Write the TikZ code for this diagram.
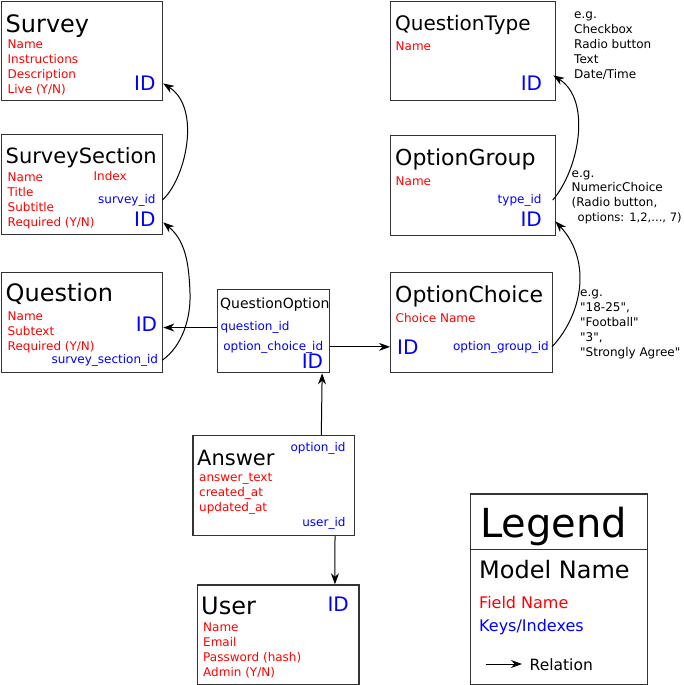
\documentclass[tikz,border=0pt]{standalone}
\usepackage{fontspec}
\setmainfont{DejaVu Sans}[Ligatures=TeXOff]
\usetikzlibrary{arrows.meta}
\tikzset{
  box/.style={draw=black!80, line width=1.3pt, anchor=north west, inner sep=0pt},
  fld/.style={text=red, font=\fontsize{12}{14}\selectfont, inner sep=0pt, anchor=base west},
  keyl/.style={text=blue, font=\fontsize{12}{14}\selectfont, inner sep=0pt, anchor=base west},
  keyr/.style={text=blue, font=\fontsize{12}{14}\selectfont, inner sep=0pt, anchor=base east},
  idk/.style={text=blue, font=\fontsize{20}{24}\selectfont, inner sep=0pt, anchor=base east},
  ttl/.style={font=\fontsize{#1}{#1}\selectfont, inner sep=0pt, anchor=base west},
  note/.style={font=\fontsize{12}{14}\selectfont, inner sep=0pt, anchor=base west},
  rel/.style={-{Stealth[length=11pt,width=8pt,inset=3.5pt]}, line width=1pt, black},
}
\begin{document}
\begin{tikzpicture}[x=1pt,y=-1pt]
\useasboundingbox (0,0) rectangle (684,685);

% ---------- boxes ----------
\node[box, minimum width=161.3pt, minimum height=99.3pt] (survey) at (0.7,0.7) {};
\node[box, minimum width=161.3pt, minimum height=100pt] (ss) at (0.7,134) {};
\node[box, minimum width=161.3pt, minimum height=100pt] (q) at (0.7,272) {};
\node[box, minimum width=112pt, minimum height=83pt] (qo) at (217,289) {};
\node[box, minimum width=165pt, minimum height=99.3pt] (qt) at (390,0.7) {};
\node[box, minimum width=165pt, minimum height=100pt] (og) at (390,135) {};
\node[box, minimum width=162pt, minimum height=100pt] (oc) at (390,272) {};
\node[box, minimum width=161.7pt, minimum height=99.5pt] (ans) at (192.3,435) {};
\node[box, minimum width=161.6pt, minimum height=100pt] (user) at (196.7,584.3) {};
\node[box, minimum width=177.2pt, minimum height=191pt] (leg) at (469.5,493.3) {};
\draw[draw=black!80, line width=1.3pt] (leg.west |- 0,549.3) -- (leg.east |- 0,549.3);

% ---------- Survey ----------
\node[ttl=24] (s_t) at (5.5,32.3) {Survey};
\node[fld] (s_f1) at (7.5,48.5) {Name};
\node[fld] (s_f2) at (7.5,63.5) {Instructions};
\node[fld] (s_f3) at (7.5,78.5) {Description};
\node[fld] (s_f4) at (7.5,93.5) {Live (Y/N)};
\node[idk] (s_id) at (155.7,90.7) {ID};

% ---------- SurveySection ----------
\node[ttl=21] (ss_t) at (5.5,163.3) {SurveySection};
\node[fld] (ss_f1) at (7.5,181.7) {Name};
\node[fld] (ss_f2) at (7.5,196.7) {Title};
\node[fld] (ss_f3) at (7.5,211.7) {Subtitle};
\node[fld] (ss_f4) at (7.5,226.7) {Required (Y/N)};
\node[fld] (ss_f5) at (93.5,180) {Index};
\node[keyr] (ss_sid) at (155.7,203.3) {survey\_id};
\node[idk] (ss_id) at (155.7,226.7) {ID};

% ---------- Question ----------
\node[ttl=24] (q_t) at (5.5,301.7) {Question};
\node[fld] (q_f1) at (7.5,320) {Name};
\node[fld] (q_f2) at (7.5,335) {Subtext};
\node[fld] (q_f3) at (7.5,350) {Required (Y/N)};
\node[keyr] (q_ssid) at (158.3,363.3) {survey\_section\_id};
\node[idk] (q_id) at (157.3,331.7) {ID};

% ---------- QuestionOption ----------
\node[ttl=14] (qo_t) at (220,308.3) {QuestionOption};
\node[keyl] (qo_qid) at (220.5,330.7) {question\_id};
\node[keyr] (qo_ocid) at (323.3,350) {option\_choice\_id};
\node[idk] (qo_id) at (323.3,368.3) {ID};

% ---------- QuestionType ----------
\node[ttl=20] (qt_t) at (395,30.7) {QuestionType};
\node[fld] (qt_f1) at (395.5,51) {Name};
\node[idk] (qt_id) at (542.3,90.7) {ID};
\node[note] (n1a) at (574,18.3) {e.g.};
\node[note] (n1b) at (574,33.3) {Checkbox};
\node[note] (n1c) at (574,48.3) {Radio button};
\node[note] (n1d) at (574,63.3) {Text};
\node[note] (n1e) at (574,78.3) {Date/Time};

% ---------- OptionGroup ----------
\node[ttl=22] (og_t) at (395,165.7) {OptionGroup};
\node[fld] (og_f1) at (395.5,185.7) {Name};
\node[keyr] (og_tid) at (541.7,203.3) {type\_id};
\node[idk] (og_id) at (542,226.7) {ID};
\node[note] (n2a) at (571.5,177) {e.g.};
\node[note] (n2b) at (571.5,191.7) {NumericChoice};
\node[note] (n2c) at (571.5,206.3) {(Radio button,};
\node[note, font=\fontsize{11.6}{14}\selectfont] (n2d) at (577.5,221) {options: 1,2,..., 7)};

% ---------- OptionChoice ----------
\node[ttl=22] (oc_t) at (395,302.3) {OptionChoice};
\node[fld] (oc_f1) at (395.5,322.7) {Choice Name};
\node[keyr] (oc_ogid) at (549,350) {option\_group\_id};
\node[idk, anchor=base west] (oc_id) at (397,354.3) {ID};
\node[note] (n3a) at (580,296.5) {e.g.};
\node[note] (n3b) at (580,311.5) {"18-25",};
\node[note] (n3c) at (580,326.5) {"Football"};
\node[note] (n3d) at (580,341.5) {"3",};
\node[note] (n3e) at (580,356.5) {"Strongly Agree"};

% ---------- Answer ----------
\node[ttl=21] (a_t) at (197,465) {Answer};
\node[fld] (a_f1) at (199,481.7) {answer\_text};
\node[fld] (a_f2) at (199,496.7) {created\_at};
\node[fld] (a_f3) at (199,511.7) {updated\_at};
\node[keyr] (a_oid) at (345.7,451) {option\_id};
\node[keyr] (a_uid) at (345.7,526.7) {user\_id};

% ---------- User ----------
\node[ttl=24] (u_t) at (201,614.3) {User};
\node[idk] (u_id) at (349,611.7) {ID};
\node[fld] (u_f1) at (203,631) {Name};
\node[fld] (u_f2) at (203,646) {Email};
\node[fld] (u_f3) at (203,661) {Password (hash)};
\node[fld] (u_f4) at (203,676) {Admin (Y/N)};

% ---------- Legend ----------
\node[ttl=40] (l_t) at (480,537.7) {Legend};
\node[ttl=24] (l_m) at (479,578.3) {Model Name};
\node[fld, font=\fontsize{16}{18}\selectfont] (l_f) at (479,608.3) {Field Name};
\node[keyl, font=\fontsize{16}{18}\selectfont] (l_k) at (479,631.7) {Keys/Indexes};
\coordinate (l_a1) at (485.7,664);
\coordinate (l_a2) at (522,664);
\node[note, font=\fontsize{15.5}{18}\selectfont] (l_r) at (529.5,670) {Relation};
\draw[rel] (l_a1) -- (l_a2);

% ---------- connectors ----------
\draw[rel] ([xshift=6.5pt]ss_sid.east) .. controls +(23,-20) and +(39,25) .. ([xshift=7.5pt]s_id.east);
\draw[rel] ([xshift=4pt]q_ssid.east) .. controls +(20,-14) and +(1,25) .. (190,293)
           .. controls +(-1,-30) and +(22,18) .. ([xshift=7.5pt,yshift=-3pt]ss_id.east);
\draw[rel] (qo.west |- qo_qid.west) -- (q.east |- qo_qid.west);
\draw[rel] (qo.east |- qo_ocid.east) -- (oc.west |- qo_ocid.east);
\draw[rel] ([xshift=47.5pt]ans.north) -- ([xshift=48.5pt]qo.south);
\draw[rel] ([xshift=61.2pt]ans.south) -- ([xshift=56.8pt]user.north);
\draw[rel] ([xshift=11pt]og_tid.east) .. controls +(26,-30) and +(39,25) .. ([xshift=11pt,yshift=8pt]qt_id.east);
\draw[rel] ([xshift=3pt]oc_ogid.east) .. controls +(30,-32) and +(37,40) .. ([xshift=13.5pt,yshift=-2pt]og_id.east);
\end{tikzpicture}
\end{document}
